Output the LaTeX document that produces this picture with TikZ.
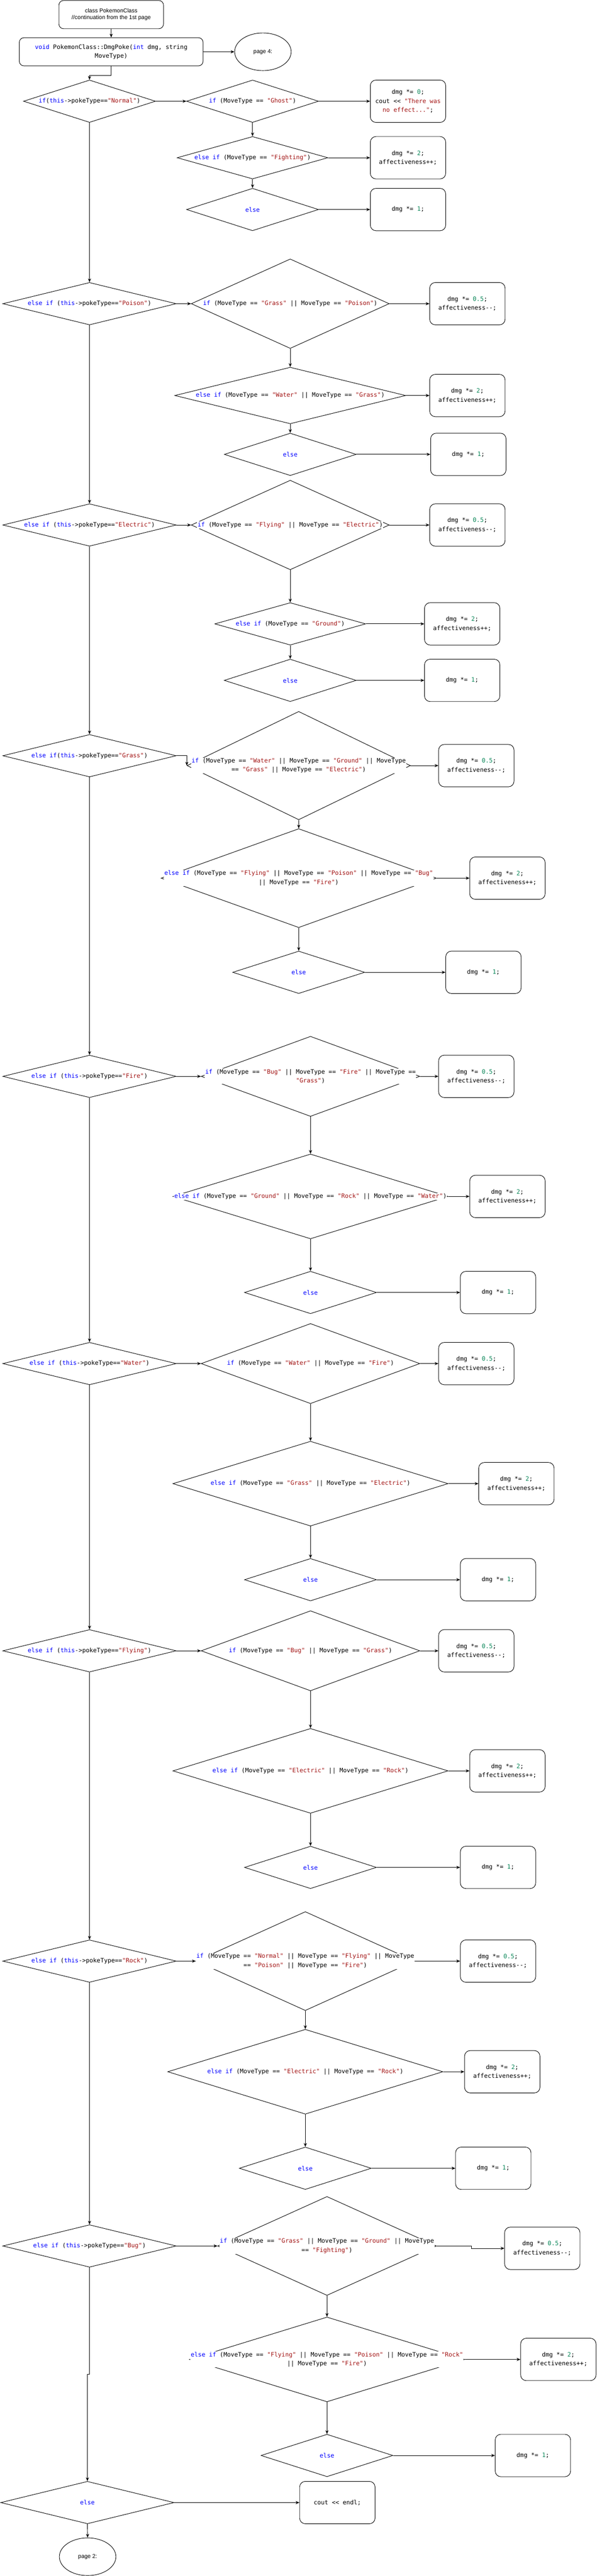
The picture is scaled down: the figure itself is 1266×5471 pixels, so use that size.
\documentclass[tikz,border=0pt]{standalone}
\usepackage{fontspec}
\setmonofont{DejaVu Sans Mono}
\setsansfont{Liberation Sans}
\usetikzlibrary{shapes.geometric,arrows.meta}
\definecolor{kwblue}{HTML}{0000FF}
\definecolor{strred}{HTML}{A31515}
\definecolor{numgreen}{HTML}{098658}
\newcommand{\kwc}[1]{\textcolor{kwblue}{#1}}
\newcommand{\strc}[1]{\textcolor{strred}{#1}}
\newcommand{\numc}[1]{\textcolor{numgreen}{#1}}
\newcommand{\codefnt}{\ttfamily\fontsize{12.8pt}{19pt}\selectfont}
\newcommand{\sansfnt}{\sffamily\fontsize{12pt}{14pt}\selectfont}
\newcommand{\halfbox}{dmg *= \numc{0.5};\\affectiveness--;}
\newcommand{\twobox}{dmg *= \numc{2};\\affectiveness++;}
\newcommand{\onebox}{dmg *= \numc{1};}
\begin{document}
\begin{tikzpicture}[x=1pt,y=-1pt,
  dia/.style={diamond, draw, line width=1pt, inner sep=0pt, fill=white},
  dsz/.style 2 args={minimum width=#1pt, minimum height=#2pt},
  bx/.style={draw, rounded corners=12pt, minimum width=160pt, minimum height=90pt, inner sep=2pt, align=center, font=\codefnt, line width=1pt},
  lbl/.style={fill=white, inner sep=1pt, align=center, font=\codefnt},
  oval/.style={draw, ellipse, minimum width=120pt, minimum height=80pt, font=\sansfnt, line width=1pt, inner sep=0pt},
  arr/.style={-{Stealth[length=8pt,width=6.5pt,inset=2.5pt]}, line width=1pt}]
\useasboundingbox (0,0) rectangle (1266,5471);

% header
\node[draw, rounded corners=10pt, minimum width=222pt, minimum height=60pt, align=center, font=\sansfnt, line width=1pt] (top) at (236,31) {class PokemonClass\\//continuation from the 1st page};
\node[draw, rounded corners=10pt, minimum width=390pt, minimum height=60pt, align=center, font=\codefnt, line width=1pt] (fn) at (236,110) {\kwc{void} PokemonClass::DmgPoke(\kwc{int} dmg, string\\MoveType)};
\node[oval] (pg4) at (558,110) {page 4:};

% diamonds
\node[dia, dsz={280}{90}] (n0) at (190,215) {};
\node[dia, dsz={280}{90}] (n1) at (536,215) {};
\node[dia, dsz={320}{90}] (n2) at (536,335) {};
\node[dia, dsz={280}{90}] (n3) at (536,445) {};
\node[dia, dsz={368}{90}] (p0) at (190,645) {};
\node[dia, dsz={420}{190}] (p1) at (616,645) {};
\node[dia, dsz={490}{120}] (p2) at (616,840) {};
\node[dia, dsz={280}{90}] (p3) at (616,965) {};
\node[dia, dsz={368}{90}] (e0) at (190,1115) {};
\node[dia, dsz={420}{190}] (e1) at (616,1115) {};
\node[dia, dsz={320}{90}] (e2) at (616,1325) {};
\node[dia, dsz={280}{90}] (e3) at (616,1445) {};
\node[dia, dsz={368}{90}] (g0) at (190,1605) {};
\node[dia, dsz={474}{230}] (g1) at (634,1626) {};
\node[dia, dsz={584}{210}] (g2) at (634,1865) {};
\node[dia, dsz={280}{90}] (g3) at (634,2065) {};
\node[dia, dsz={368}{90}] (f0) at (190,2286) {};
\node[dia, dsz={464}{170}] (f1) at (659,2286) {};
\node[dia, dsz={584}{180}] (f2) at (659,2541) {};
\node[dia, dsz={280}{90}] (f3) at (659,2745) {};
\node[dia, dsz={368}{90}] (w0) at (190,2896) {};
\node[dia, dsz={464}{170}] (w1) at (659,2896) {};
\node[dia, dsz={584}{180}] (w2) at (659,3151) {};
\node[dia, dsz={280}{90}] (w3) at (659,3355) {};
\node[dia, dsz={368}{90}] (y0) at (190,3506) {};
\node[dia, dsz={464}{170}] (y1) at (659,3506) {};
\node[dia, dsz={584}{180}] (y2) at (659,3761) {};
\node[dia, dsz={280}{90}] (y3) at (659,3966) {};
\node[dia, dsz={368}{90}] (r0) at (190,4165) {};
\node[dia, dsz={464}{210}] (r1) at (648,4165) {};
\node[dia, dsz={584}{180}] (r2) at (648,4400) {};
\node[dia, dsz={280}{90}] (r3) at (648,4605) {};
\node[dia, dsz={368}{90}] (b0) at (190,4770) {};
\node[dia, dsz={464}{210}] (b1) at (694,4770) {};
\node[dia, dsz={584}{180}] (b2) at (694,5011) {};
\node[dia, dsz={280}{90}] (b3) at (694,5215) {};
\node[dia, dsz={368}{90}] (fe) at (185.5,5315) {};

% result boxes
\node[bx] (n1b) at (866,215) {dmg *= \numc{0};\\cout << \strc{"There was}\\\strc{no effect..."};};
\node[bx] (n2b) at (866,335) {\twobox};
\node[bx] (n3b) at (866,445) {\onebox};
\node[bx] (p1b) at (992,645) {\halfbox};
\node[bx] (p2b) at (992,840) {\twobox};
\node[bx] (p3b) at (994,965) {\onebox};
\node[bx] (e1b) at (992,1115) {\halfbox};
\node[bx] (e2b) at (981,1325) {\twobox};
\node[bx] (e3b) at (981,1445) {\onebox};
\node[bx] (g1b) at (1011,1626) {\halfbox};
\node[bx] (g2b) at (1077,1865) {\twobox};
\node[bx] (g3b) at (1026,2065) {\onebox};
\node[bx] (f1b) at (1011,2286) {\halfbox};
\node[bx] (f2b) at (1077,2541) {\twobox};
\node[bx] (f3b) at (1057,2745) {\onebox};
\node[bx] (w1b) at (1011,2896) {\halfbox};
\node[bx] (w2b) at (1096,3151) {\twobox};
\node[bx] (w3b) at (1057,3355) {\onebox};
\node[bx] (y1b) at (1011,3506) {\halfbox};
\node[bx] (y2b) at (1077,3761) {\twobox};
\node[bx] (y3b) at (1057,3966) {\onebox};
\node[bx] (r1b) at (1057,4165) {\halfbox};
\node[bx] (r2b) at (1066,4400) {\twobox};
\node[bx] (r3b) at (1047,4605) {\onebox};
\node[bx] (b1b) at (1151,4775) {\halfbox};
\node[bx] (b2b) at (1185,5011) {\twobox};
\node[bx] (b3b) at (1131,5215) {\onebox};
\node[bx] (endl) at (716,5315) {cout << endl;};
\node[oval] (pg2) at (186,5430) {page 2:};

% connectors
\draw[arr] (top.south) -- (fn.north);
\draw[arr] (fn.east) -- (pg4.west);
\draw[arr] (fn.south) -- ++(0,20) -| (n0.north);
\foreach \a/\b in {n0/p0,p0/e0,e0/g0,g0/f0,f0/w0,w0/y0,y0/r0,r0/b0}
  \draw[arr] (\a.south) -- (\b.north);
\draw[arr] (b0.south) -- ++(0,227) -| (fe.north);
\draw[arr] (fe.east) -- (endl.west);
\draw[arr] (fe.south) -- (pg2.north);
\foreach \a/\b in {n0/n1,p0/p1,e0/e1,f0/f1,w0/w1,y0/y1,r0/r1,b0/b1}
  \draw[arr] (\a.east) -- (\b.west);
\draw[arr] (g0.east) -| (g1.west);
\foreach \s in {n,p,e,g,f,w,y,r,b}{
  \draw[arr] (\s1.south) -- (\s2.north);
  \draw[arr] (\s2.south) -- (\s3.north);
}
\foreach \s in {n,p,e,g,f,w,y,r}{
  \draw[arr] (\s1.east) -- (\s1b.west);
}
\draw[arr] (b1.east) -- ++(74,0) |- (b1b.west);
\foreach \s in {n,p,e,g,f,w,y,r,b}{
  \draw[arr] (\s2.east) -- (\s2b.west);
  \draw[arr] (\s3.east) -- (\s3b.west);
}

% labels of the decisions
\node[lbl] (n0t) at (n0) {\kwc{if}(\kwc{this}->pokeType==\strc{"Normal"})};
\node[lbl] (n1t) at (n1) {\kwc{if} (MoveType == \strc{"Ghost"})};
\node[lbl] (n2t) at (n2) {\kwc{else if} (MoveType == \strc{"Fighting"})};
\node[lbl] (n3t) at (n3) {\kwc{else}};
\node[lbl] (p0t) at (p0) {\kwc{else if} (\kwc{this}->pokeType==\strc{"Poison"})};
\node[lbl] (p1t) at (p1) {\kwc{if} (MoveType == \strc{"Grass"} || MoveType == \strc{"Poison"})};
\node[lbl] (p2t) at (p2) {\kwc{else if} (MoveType == \strc{"Water"} || MoveType == \strc{"Grass"})};
\node[lbl] (p3t) at (p3) {\kwc{else}};
\node[lbl] (e0t) at (e0) {\kwc{else if} (\kwc{this}->pokeType==\strc{"Electric"})};
\node[lbl] (e1t) at (e1) {\kwc{if} (MoveType == \strc{"Flying"} || MoveType == \strc{"Electric"})};
\node[lbl] (e2t) at (e2) {\kwc{else if} (MoveType == \strc{"Ground"})};
\node[lbl] (e3t) at (e3) {\kwc{else}};
\node[lbl] (g0t) at (g0) {\kwc{else if}(\kwc{this}->pokeType==\strc{"Grass"})};
\node[lbl] (g1t) at (g1) {\kwc{if} (MoveType == \strc{"Water"} || MoveType == \strc{"Ground"} || MoveType\\== \strc{"Grass"} || MoveType == \strc{"Electric"})};
\node[lbl] (g2t) at (g2) {\kwc{else if} (MoveType == \strc{"Flying"} || MoveType == \strc{"Poison"} || MoveType == \strc{"Bug"}\\|| MoveType == \strc{"Fire"})};
\node[lbl] (g3t) at (g3) {\kwc{else}};
\node[lbl] (f0t) at (f0) {\kwc{else if} (\kwc{this}->pokeType==\strc{"Fire"})};
\node[lbl] (f1t) at (f1) {\kwc{if} (MoveType == \strc{"Bug"} || MoveType == \strc{"Fire"} || MoveType ==\\\strc{"Grass"})};
\node[lbl] (f2t) at (f2) {\kwc{else if} (MoveType == \strc{"Ground"} || MoveType == \strc{"Rock"} || MoveType == \strc{"Water"})};
\node[lbl] (f3t) at (f3) {\kwc{else}};
\node[lbl] (w0t) at (w0) {\kwc{else if} (\kwc{this}->pokeType==\strc{"Water"})};
\node[lbl] (w1t) at (w1) {\kwc{if} (MoveType == \strc{"Water"} || MoveType == \strc{"Fire"})};
\node[lbl] (w2t) at (w2) {\kwc{else if} (MoveType == \strc{"Grass"} || MoveType == \strc{"Electric"})};
\node[lbl] (w3t) at (w3) {\kwc{else}};
\node[lbl] (y0t) at (y0) {\kwc{else if} (\kwc{this}->pokeType==\strc{"Flying"})};
\node[lbl] (y1t) at (y1) {\kwc{if} (MoveType == \strc{"Bug"} || MoveType == \strc{"Grass"})};
\node[lbl] (y2t) at (y2) {\kwc{else if} (MoveType == \strc{"Electric"} || MoveType == \strc{"Rock"})};
\node[lbl] (y3t) at (y3) {\kwc{else}};
\node[lbl] (r0t) at (r0) {\kwc{else if} (\kwc{this}->pokeType==\strc{"Rock"})};
\node[lbl] (r1t) at (r1) {\kwc{if} (MoveType == \strc{"Normal"} || MoveType == \strc{"Flying"} || MoveType\\== \strc{"Poison"} || MoveType == \strc{"Fire"})};
\node[lbl] (r2t) at (r2) {\kwc{else if} (MoveType == \strc{"Electric"} || MoveType == \strc{"Rock"})};
\node[lbl] (r3t) at (r3) {\kwc{else}};
\node[lbl] (b0t) at (b0) {\kwc{else if} (\kwc{this}->pokeType==\strc{"Bug"})};
\node[lbl] (b1t) at (b1) {\kwc{if} (MoveType == \strc{"Grass"} || MoveType == \strc{"Ground"} || MoveType\\== \strc{"Fighting"})};
\node[lbl] (b2t) at (b2) {\kwc{else if} (MoveType == \strc{"Flying"} || MoveType == \strc{"Poison"} || MoveType == \strc{"Rock"}\\|| MoveType == \strc{"Fire"})};
\node[lbl] (b3t) at (b3) {\kwc{else}};
\node[lbl] (fet) at (fe) {\kwc{else}};
\end{tikzpicture}
\end{document}
